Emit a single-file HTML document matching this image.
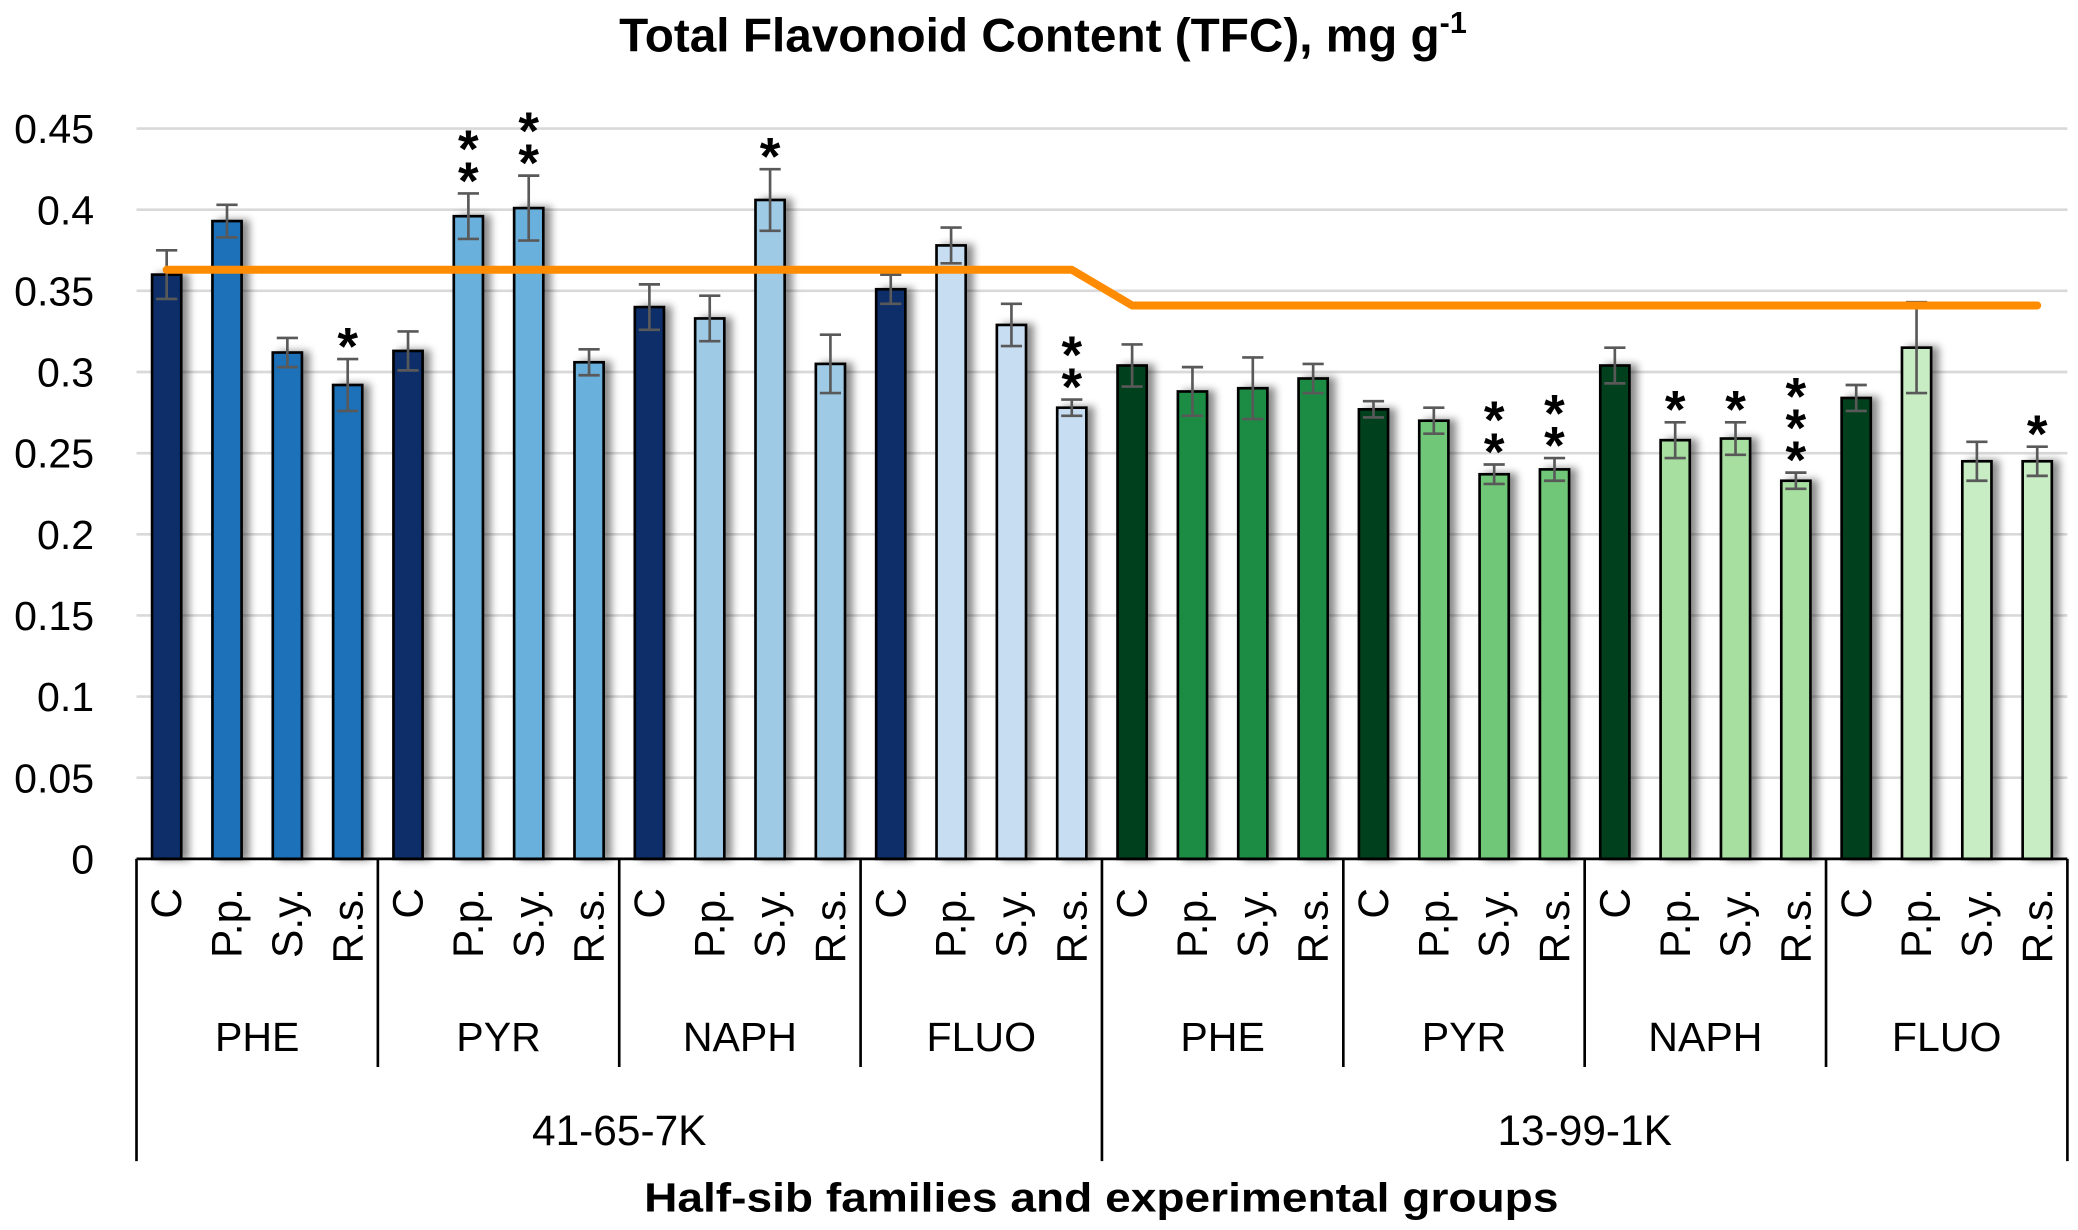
<!DOCTYPE html>
<html><head><meta charset="utf-8"><style>
html,body{margin:0;padding:0;background:#fff;}
svg{display:block;}
text{font-family:"Liberation Sans",Arial,sans-serif;}
</style></head><body>
<svg id="chart" width="2078" height="1230" viewBox="0 0 1568 928" preserveAspectRatio="none" xmlns="http://www.w3.org/2000/svg">
<defs><filter id="sh" x="-50%" y="-10%" width="250%" height="120%"><feDropShadow dx="5" dy="0" stdDeviation="3" flood-color="#000" flood-opacity="0.45"/></filter></defs>
<text x="787" y="39" text-anchor="middle" font-size="36" font-weight="bold">Total Flavonoid Content (TFC), mg g<tspan font-size="23" dy="-14">-1</tspan></text>
<g id="grid"></g><g id="yticks"></g><g id="bars"></g><g id="errs"></g><g id="stars"></g><g id="line"></g><g id="xaxis"></g>
<text x="831" y="914" text-anchor="middle" font-size="31" font-weight="bold" textLength="690" lengthAdjust="spacingAndGlyphs">Half-sib families and experimental groups</text>
</svg>
<script>
const treatments=["C","P.p.","S.y.","R.s."];
const groups=["PHE","PYR","NAPH","FLUO","PHE","PYR","NAPH","FLUO"];
const families=["41-65-7K","13-99-1K"];
const values=[0.360,0.393,0.312,0.292, 0.313,0.396,0.401,0.306, 0.340,0.333,0.406,0.305, 0.351,0.378,0.329,0.278,
 0.304,0.288,0.290,0.296, 0.277,0.270,0.237,0.240, 0.304,0.258,0.259,0.233, 0.284,0.315,0.245,0.245];
const errors=[0.015,0.010,0.009,0.016, 0.012,0.014,0.020,0.008, 0.014,0.014,0.019,0.018, 0.009,0.011,0.013,0.005,
 0.013,0.015,0.019,0.009, 0.005,0.008,0.006,0.007, 0.011,0.011,0.010,0.005, 0.008,0.028,0.012,0.009];
const stars=[0,0,0,1, 0,2,2,0, 0,0,1,0, 0,0,0,2, 0,0,0,0, 0,0,2,2, 0,1,1,3, 0,0,0,1];
const controlLine=[0.363,0.341];
const yTicks=["0","0.05","0.1","0.15","0.2","0.25","0.3","0.35","0.4","0.45"];
const groupColors=["#1f71b8","#6ab0dc","#9ecae6","#c6ddf2","#1e8c45","#70c777","#a6dfa0","#c8ecc4"];
const controlColors=["#082d68","#04401a"];

const NS="http://www.w3.org/2000/svg";
const X0=103,X1=1560,Y0=648,YMAX=0.45,YTOP=97;
const n=values.length,cw=(X1-X0)/n;
const y=v=>Y0-(v/YMAX)*(Y0-YTOP);
const xc=i=>X0+cw*(i+0.5);
function mk(tag,attrs,parent){const e=document.createElementNS(NS,tag);for(const k in attrs)e.setAttribute(k,attrs[k]);document.getElementById(parent).appendChild(e);return e;}

yTicks.forEach((t,i)=>{const v=parseFloat(t);
 if(i>0){const g=mk('line',{x1:X0,x2:X1,y1:y(v),y2:y(v),stroke:'#d9d9d9','stroke-width':2},'grid');
 
 }
 const tx=mk('text',{x:71,y:y(v)+11,'text-anchor':'end','font-size':31},'yticks');tx.textContent=t;
 
 
});
values.forEach((v,i)=>{
 const gi=Math.floor(i/4),ti=i%4,fi=Math.floor(i/16);
 const fill=ti===0?controlColors[fi]:groupColors[gi];
 const r=mk('rect',{x:xc(i)-11,y:y(v),width:22,height:Y0-y(v),fill:fill,stroke:'#000','stroke-width':2,filter:'url(#sh)'},'bars');
 
 
 const e=errors[i],t=y(v+e),b=y(v-e),cx=xc(i);
 const p=mk('path',{d:`M${cx-8},${t}H${cx+8}M${cx},${t}V${b}M${cx-8},${b}H${cx+8}`,stroke:'#595959','stroke-width':2,fill:'none'},'errs');
 
 
 for(let k=0;k<stars[i];k++){
  const s=mk('text',{x:cx,y:t+4-k*24,'text-anchor':'middle','font-size':40,'font-weight':'bold'},'stars');s.textContent='*';
  
  
 }
});
const pl=mk('path',{d:`M${xc(0)},${y(controlLine[0])}L${xc(15)},${y(controlLine[0])}L${xc(16)},${y(controlLine[1])}L${xc(n-1)},${y(controlLine[1])}`,stroke:'#ff8c00','stroke-width':6,fill:'none','stroke-linecap':'round','stroke-linejoin':'round'},'line');


const ax=mk('line',{x1:X0,x2:X1,y1:Y0,y2:Y0,stroke:'#000','stroke-width':2},'xaxis');


values.forEach((v,i)=>{
 const cx=xc(i);
 const t=mk('text',{x:0,y:0,'text-anchor':'end','font-size':32,transform:`translate(${cx+11},${670}) rotate(-90)`},'xaxis');t.textContent=treatments[i%4];
 
 
});
for(let g=0;g<=groups.length;g++){
 const x=X0+g*cw*4,full=(g%4===0);
 const l=mk('line',{x1:x,x2:x,y1:Y0,y2:full?876:805,stroke:'#000','stroke-width':2},'xaxis');
 
 
 if(g<groups.length){const t=mk('text',{x:x+cw*2,y:793,'text-anchor':'middle','font-size':31},'xaxis');t.textContent=groups[g];
 
 }
}
families.forEach((f,i)=>{const t=mk('text',{x:X0+cw*16*(i+0.5),y:864,'text-anchor':'middle','font-size':32},'xaxis');t.textContent=f;
 
 });
</script>
</body></html>
